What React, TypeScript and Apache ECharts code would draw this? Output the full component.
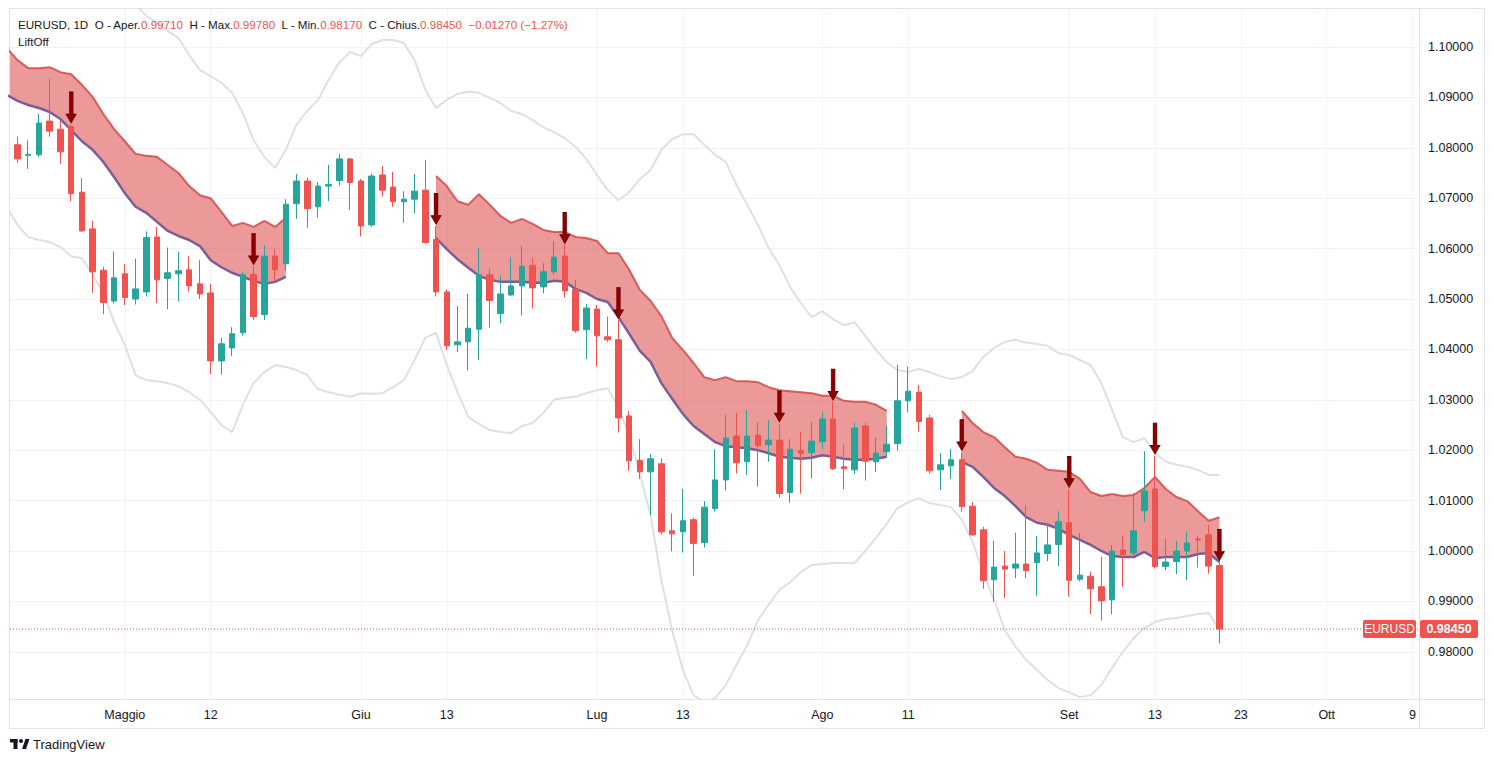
import React, { useEffect, useRef } from "react";
import * as echarts from "echarts";

// ---- candles (index 0 = first visible trading day) ----
const openP = [1.0806,1.0785,1.0786,1.0853,1.0837,1.0842,1.0712,1.0639,1.0557,1.0496,1.0550,1.0500,1.0514,1.0623,1.0541,1.0550,1.0558,1.0530,1.0512,1.0377,1.0403,1.0433,1.0549,1.0469,1.0585,1.0570,1.0689,1.0734,1.0683,1.0724,1.0735,1.0778,1.0734,1.0647,1.0746,1.0722,1.0693,1.0698,1.0716,1.0618,1.0514,1.0409,1.0415,1.0440,1.0548,1.0471,1.0508,1.0526,1.0567,1.0524,1.0554,1.0585,1.0519,1.0439,1.0480,1.0425,1.0419,1.0268,1.0180,1.0157,1.0173,1.0040,1.0038,1.0062,1.0017,1.0084,1.0141,1.0228,1.0177,1.0230,1.0211,1.0220,1.0116,1.0199,1.0195,1.0217,1.0262,1.0167,1.0161,1.0248,1.0177,1.0197,1.0213,1.0298,1.0315,1.0264,1.0161,1.0169,1.0181,1.0089,1.0042,0.9943,0.9970,0.9966,0.9974,0.9977,0.9995,1.0013,1.0056,0.9944,0.9950,0.9929,0.9903,1.0002,0.9996,1.0080,1.0123,0.9969,0.9979,1.0000,1.0024,1.0032,0.9971];
const highP = [1.0822,1.0815,1.0867,1.0937,1.0853,1.0846,1.0740,1.0655,1.0564,1.0594,1.0569,1.0580,1.0634,1.0643,1.0602,1.0594,1.0585,1.0577,1.0530,1.0423,1.0444,1.0554,1.0565,1.0607,1.0599,1.0698,1.0748,1.0741,1.0732,1.0766,1.0788,1.0780,1.0738,1.0749,1.0764,1.0752,1.0714,1.0748,1.0776,1.0645,1.0519,1.0486,1.0510,1.0601,1.0560,1.0546,1.0583,1.0605,1.0582,1.0571,1.0615,1.0607,1.0538,1.0490,1.0488,1.0465,1.0458,1.0278,1.0222,1.0192,1.0184,1.0075,1.0123,1.0066,1.0099,1.0202,1.0270,1.0274,1.0280,1.0255,1.0260,1.0253,1.0222,1.0237,1.0256,1.0276,1.0296,1.0211,1.0255,1.0255,1.0225,1.0249,1.0369,1.0366,1.0329,1.0270,1.0194,1.0202,1.0196,1.0097,1.0048,1.0020,1.0000,1.0036,1.0091,1.0030,1.0056,1.0079,1.0123,1.0036,0.9959,0.9989,1.0012,1.0030,1.0115,1.0198,1.0189,1.0024,1.0020,1.0038,1.0030,1.0052,0.9978];
const lowP = [1.0770,1.0758,1.0782,1.0822,1.0768,1.0694,1.0634,1.0512,1.0470,1.0491,1.0488,1.0489,1.0505,1.0492,1.0480,1.0495,1.0515,1.0500,1.0351,1.0350,1.0387,1.0427,1.0458,1.0458,1.0534,1.0556,1.0659,1.0641,1.0661,1.0694,1.0725,1.0677,1.0624,1.0643,1.0703,1.0683,1.0651,1.0670,1.0610,1.0505,1.0399,1.0395,1.0358,1.0379,1.0443,1.0452,1.0506,1.0467,1.0481,1.0511,1.0548,1.0503,1.0433,1.0381,1.0366,1.0415,1.0235,1.0159,1.0143,1.0071,1.0033,0.9999,0.9997,0.9951,1.0007,1.0078,1.0120,1.0154,1.0151,1.0128,1.0177,1.0106,1.0096,1.0114,1.0144,1.0202,1.0161,1.0122,1.0153,1.0140,1.0157,1.0186,1.0199,1.0275,1.0237,1.0153,1.0121,1.0143,1.0078,1.0030,0.9925,0.9899,0.9907,0.9946,0.9946,0.9911,0.9980,0.9970,0.9909,0.9940,0.9875,0.9862,0.9874,0.9929,0.9991,1.0058,0.9965,0.9962,0.9954,0.9942,0.9967,0.9955,0.9817];
const closeP = [1.0778,1.0787,1.0849,1.0833,1.0792,1.0709,1.0635,1.0554,1.0493,1.0542,1.0503,1.0520,1.0622,1.0538,1.0552,1.0556,1.0526,1.0510,1.0377,1.0411,1.0431,1.0548,1.0465,1.0585,1.0558,1.0688,1.0734,1.0679,1.0724,1.0727,1.0778,1.0731,1.0645,1.0744,1.0716,1.0693,1.0698,1.0714,1.0612,1.0514,1.0407,1.0415,1.0442,1.0548,1.0497,1.0510,1.0526,1.0565,1.0522,1.0554,1.0583,1.0516,1.0437,1.0482,1.0427,1.0419,1.0264,1.0179,1.0157,1.0183,1.0038,1.0034,1.0060,1.0015,1.0087,1.0141,1.0224,1.0175,1.0228,1.0209,1.0220,1.0114,1.0202,1.0194,1.0218,1.0262,1.0163,1.0163,1.0244,1.0178,1.0194,1.0212,1.0298,1.0317,1.0257,1.0159,1.0171,1.0181,1.0088,1.0032,0.9941,0.9968,0.9964,0.9974,0.9961,0.9996,1.0012,1.0058,0.9942,0.9952,0.9925,0.9901,1.0000,0.9993,1.0040,1.0119,0.9969,0.9978,1.0000,1.0016,1.0022,0.9970,0.9845];

// ---- grey envelope (starts one bar before the first candle) ----
const envStart = -1;
const envUpper = [1.1160,1.1170,1.1180,1.1190,1.1195,1.1190,1.1180,1.1165,1.1150,1.1130,1.1117,1.1099,1.1083,1.1062,1.1048,1.1032,1.1018,1.0984,1.0954,1.0942,1.0929,1.0909,1.0869,1.0815,1.0782,1.0760,1.0796,1.0846,1.0873,1.0895,1.0935,1.0970,1.0990,1.0982,1.1006,1.1014,1.1014,1.1008,1.0974,1.0915,1.0879,1.0895,1.0907,1.0911,1.0909,1.0899,1.0889,1.0873,1.0867,1.0855,1.0841,1.0831,1.0819,1.0802,1.0778,1.0746,1.0716,1.0696,1.0712,1.0738,1.0756,1.0796,1.0817,1.0827,1.0827,1.0806,1.0786,1.0772,1.0726,1.0687,1.0647,1.0601,1.0567,1.0524,1.0492,1.0464,1.0476,1.0460,1.0448,1.0454,1.0427,1.0399,1.0375,1.0359,1.0355,1.0361,1.0355,1.0347,1.0341,1.0345,1.0357,1.0385,1.0403,1.0415,1.0419,1.0413,1.0411,1.0407,1.0393,1.0389,1.0379,1.0369,1.0333,1.0280,1.0226,1.0216,1.0224,1.0194,1.0177,1.0171,1.0167,1.0161,1.0151,1.0151];
const envLower = [1.0683,1.0647,1.0623,1.0617,1.0613,1.0603,1.0585,1.0581,1.0548,1.0512,1.0454,1.0409,1.0349,1.0339,1.0337,1.0333,1.0327,1.0315,1.0300,1.0276,1.0250,1.0236,1.0290,1.0333,1.0355,1.0369,1.0365,1.0359,1.0349,1.0321,1.0315,1.0310,1.0306,1.0313,1.0312,1.0313,1.0325,1.0339,1.0379,1.0423,1.0433,1.0369,1.0315,1.0266,1.0252,1.0240,1.0236,1.0234,1.0248,1.0254,1.0274,1.0300,1.0304,1.0306,1.0313,1.0319,1.0323,1.0284,1.0230,1.0153,1.0071,0.9942,0.9843,0.9764,0.9714,0.9700,0.9708,0.9734,0.9774,0.9813,0.9863,0.9893,0.9923,0.9938,0.9958,0.9972,0.9974,0.9976,0.9976,0.9976,1.0000,1.0026,1.0054,1.0085,1.0097,1.0105,1.0095,1.0091,1.0087,1.0062,1.0018,0.9958,0.9903,0.9843,0.9810,0.9784,0.9764,0.9744,0.9728,0.9720,0.9710,0.9714,0.9734,0.9768,0.9800,0.9827,0.9847,0.9859,0.9865,0.9867,0.9871,0.9875,0.9877,0.9843];

// ---- LiftOff band, three segments ----
const bandAStart = -1;
const bandAUpper = [1.0998,1.0974,1.0958,1.0958,1.0960,1.0950,1.0946,1.0925,1.0901,1.0867,1.0837,1.0813,1.0788,1.0784,1.0782,1.0766,1.0750,1.0724,1.0706,1.0700,1.0673,1.0645,1.0651,1.0643,1.0655,1.0643,1.0661];
const bandALower = [1.0905,1.0893,1.0885,1.0879,1.0871,1.0857,1.0835,1.0813,1.0796,1.0772,1.0742,1.0710,1.0683,1.0671,1.0653,1.0635,1.0625,1.0617,1.0605,1.0577,1.0563,1.0552,1.0544,1.0536,1.0530,1.0534,1.0544];
const bandBStart = 39;
const bandBUpper = [1.0744,1.0724,1.0694,1.0687,1.0708,1.0687,1.0665,1.0651,1.0659,1.0649,1.0637,1.0633,1.0633,1.0623,1.0621,1.0615,1.0591,1.0591,1.0558,1.0518,1.0496,1.0466,1.0423,1.0399,1.0373,1.0345,1.0339,1.0345,1.0337,1.0337,1.0335,1.0325,1.0319,1.0317,1.0315,1.0313,1.0308,1.0308,1.0298,1.0296,1.0296,1.0290,1.0278];
const bandBLower = [1.0621,1.0599,1.0579,1.0562,1.0546,1.0538,1.0534,1.0534,1.0534,1.0532,1.0532,1.0536,1.0534,1.0520,1.0512,1.0500,1.0494,1.0464,1.0431,1.0397,1.0375,1.0333,1.0302,1.0272,1.0248,1.0232,1.0216,1.0208,1.0206,1.0204,1.0200,1.0194,1.0187,1.0185,1.0183,1.0185,1.0190,1.0187,1.0183,1.0181,1.0181,1.0183,1.0187];
const bandCStart = 88;
const bandCUpper = [1.0278,1.0254,1.0236,1.0226,1.0206,1.0187,1.0183,1.0175,1.0161,1.0159,1.0157,1.0143,1.0117,1.0109,1.0113,1.0109,1.0111,1.0125,1.0147,1.0123,1.0107,1.0099,1.0079,1.0060,1.0067];
const bandCLower = [1.0177,1.0167,1.0147,1.0125,1.0109,1.0089,1.0067,1.0056,1.0052,1.0044,1.0032,1.0022,1.0012,1.0000,0.9990,0.9988,0.9988,0.9998,0.9986,0.9988,0.9988,0.9988,0.9994,0.9996,0.9978];

// ---- signal arrows (bar indices) ----
const arrowIdx = [5, 22, 39, 51, 56, 71, 76, 88, 98, 106, 112];

// ---- axis ticks ----
const timeTickIdx = [10, 18, 32, 40, 54, 62, 75, 83, 98, 106, 114, 122, 130];
const timeTickText = ["Maggio", "12", "Giu", "13", "Lug", "13", "Ago", "11", "Set", "13", "23", "Ott", "9"];
const priceTicks = [0.98, 0.99, 1.0, 1.01, 1.02, 1.03, 1.04, 1.05, 1.06, 1.07, 1.08, 1.09, 1.1];

const X_MIN = -0.7;
const X_MAX = 130.6;
const FONT = '"Liberation Sans", Arial, sans-serif';
const TXT = "#131722";
const UP = "#26a69a";
const DOWN = "#ef5350";

function bandSeries(start: number, upper: number[], lower: number[]) {
  return [
    {
      type: "custom",
      data: [[start, upper[0]]],
      clip: true,
      silent: true,
      z: 2,
      renderItem: (params: any, api: any) => {
        const pts: number[][] = [];
        upper.forEach((v, k) => pts.push(api.coord([start + k, v])));
        for (let k = lower.length - 1; k >= 0; k--) pts.push(api.coord([start + k, lower[k]]));
        return {
          type: "polygon",
          shape: { points: pts },
          style: { fill: "rgba(220,80,80,0.58)", stroke: "none" },
        };
      },
    },
    {
      type: "line",
      data: lower.map((v, k) => [start + k, v]),
      symbol: "none",
      lineStyle: { color: "#7a5f96", width: 2.5 },
      z: 3,
      silent: true,
    },
    {
      type: "line",
      data: upper.map((v, k) => [start + k, v]),
      symbol: "none",
      lineStyle: { color: "rgba(214,72,72,0.85)", width: 2 },
      z: 3,
      silent: true,
    },
  ];
}

export default function App() {
  const ref = useRef<HTMLDivElement>(null);
  useEffect(() => {
    if (!ref.current) return;
    const chart = echarts.init(ref.current, null, { renderer: "svg" });
    const last = closeP.length - 1;
    const lastClose = closeP[last];
    const option: any = {
      animation: false,
      backgroundColor: "#ffffff",
      grid: { left: 10, right: 74, top: 9, bottom: 63, containLabel: false },
      xAxis: {
        type: "value",
        min: X_MIN,
        max: X_MAX,
        axisLine: { show: false },
        axisTick: { show: false, customValues: timeTickIdx },
        axisLabel: {
          customValues: timeTickIdx,
          formatter: (v: number) => {
            const k = timeTickIdx.indexOf(Math.round(v));
            return k >= 0 ? timeTickText[k] : "";
          },
          color: TXT,
          fontSize: 12.5,
          fontFamily: FONT,
          margin: 9,
        },
        splitLine: { show: true, lineStyle: { color: "#f0f3fa", width: 1 } },
      },
      yAxis: {
        type: "value",
        position: "right",
        min: 0.97063,
        max: 1.10754,
        axisLine: { show: false },
        axisTick: { show: false, customValues: priceTicks },
        axisLabel: {
          customValues: priceTicks,
          formatter: (v: number) => v.toFixed(5),
          color: TXT,
          fontSize: 12.5,
          fontFamily: FONT,
          margin: 9,
        },
        splitLine: { show: true, lineStyle: { color: "#f0f3fa", width: 1 } },
      },
      series: [
        {
          type: "line",
          data: envUpper.map((v, k) => [envStart + k, v]),
          symbol: "none",
          lineStyle: { color: "#e0e0e0", width: 2 },
          z: 1,
          silent: true,
        },
        {
          type: "line",
          data: envLower.map((v, k) => [envStart + k, v]),
          symbol: "none",
          lineStyle: { color: "#e0e0e0", width: 2 },
          z: 1,
          silent: true,
        },
        ...bandSeries(bandAStart, bandAUpper, bandALower),
        ...bandSeries(bandBStart, bandBUpper, bandBLower),
        ...bandSeries(bandCStart, bandCUpper, bandCLower),
        {
          type: "line",
          data: [[X_MIN, lastClose], [X_MAX, lastClose]],
          symbol: "none",
          lineStyle: { color: DOWN, type: [1, 2], width: 1 },
          z: 4,
          silent: true,
        },
        {
          type: "candlestick",
          data: openP.map((o, i) => [i, o, closeP[i], lowP[i], highP[i]]),
          encode: { x: 0, y: [1, 2, 3, 4] },
          barWidth: 6,
          itemStyle: {
            color: UP,
            color0: DOWN,
            borderColor: UP,
            borderColor0: DOWN,
            borderWidth: 1,
          },
          z: 5,
        },
        {
          type: "scatter",
          data: arrowIdx.map((i) => [i, highP[i]]),
          symbol: "path://M3,0 L7,0 L7,23 L10,23 L5,32 L0,23 L3,23 Z",
          symbolSize: [10, 31],
          symbolOffset: [0, -17],
          itemStyle: { color: "#8b0000", borderColor: "#5c0000", borderWidth: 0.6, opacity: 1 },
          z: 8,
          silent: true,
        },
      ],
    };
    chart.setOption(option);

    const yTag = chart.convertToPixel({ yAxisIndex: 0 }, lastClose) as number;
    const header =
      "{t|EURUSD, 1D  O - Aper.}{v|0.99710}{t|  H - Max.}{v|0.99780}{t|  L - Min.}{v|0.98170}{t|  C - Chius.}{v|0.98450}{v|  \u22120.01270 (\u22121.27%)}";
    chart.setOption({
      graphic: [
        { type: "rect", silent: true, shape: { x: 9.5, y: 8.5, width: 1475, height: 720 }, style: { fill: "none", stroke: "#e0e3eb", lineWidth: 1 }, z: 0 },
        { type: "line", silent: true, shape: { x1: 1419.5, y1: 8.5, x2: 1419.5, y2: 728.5 }, style: { stroke: "#e0e3eb", lineWidth: 1 } },
        { type: "line", silent: true, shape: { x1: 9.5, y1: 699.5, x2: 1484.5, y2: 699.5 }, style: { stroke: "#e0e3eb", lineWidth: 1 } },
        {
          type: "text",
          silent: true,
          x: 18,
          y: 24,
          style: {
            text: header,
            verticalAlign: "middle",
            font: `11.6px ${FONT}`,
            rich: {
              t: { fill: TXT, fontSize: 11.6, fontFamily: FONT },
              v: { fill: DOWN, fontSize: 11.6, fontFamily: FONT },
            },
          },
          z: 20,
        },
        {
          type: "text",
          silent: true,
          x: 18,
          y: 41,
          style: { text: "LiftOff", fill: TXT, font: `11.6px ${FONT}`, verticalAlign: "middle" },
          z: 20,
        },
        { type: "rect", silent: true, shape: { x: 1363, y: yTag - 9, width: 53, height: 18, r: 2 }, style: { fill: DOWN }, z: 20 },
        { type: "text", silent: true, x: 1389.5, y: yTag, style: { text: "EURUSD", fill: "#ffffff", font: `12px ${FONT}`, align: "center", verticalAlign: "middle" }, z: 21 },
        { type: "rect", silent: true, shape: { x: 1420, y: yTag - 9, width: 58, height: 18, r: 2 }, style: { fill: DOWN }, z: 20 },
        { type: "text", silent: true, x: 1449, y: yTag, style: { text: "0.98450", fill: "#ffffff", font: `bold 12.5px ${FONT}`, align: "center", verticalAlign: "middle" }, z: 21 },
        {
          type: "group",
          silent: true,
          children: [
            { type: "rect", shape: { x: 10, y: 739, width: 7.5, height: 3.5 }, style: { fill: TXT } },
            { type: "rect", shape: { x: 13.5, y: 739, width: 4, height: 10 }, style: { fill: TXT } },
            { type: "circle", shape: { cx: 21, cy: 741, r: 2 }, style: { fill: TXT } },
            { type: "polygon", shape: { points: [[22, 749], [25.5, 739], [29.5, 739], [26, 749]] }, style: { fill: TXT } },
          ],
        },
        { type: "text", silent: true, x: 33, y: 744, style: { text: "TradingView", fill: TXT, font: `13px ${FONT}`, verticalAlign: "middle" } },
      ],
    });

    return () => chart.dispose();
  }, []);

  return (
    <div
      ref={ref}
      style={{ position: "fixed", left: 0, top: 0, width: 1493, height: 762, background: "#ffffff" }}
    />
  );
}
